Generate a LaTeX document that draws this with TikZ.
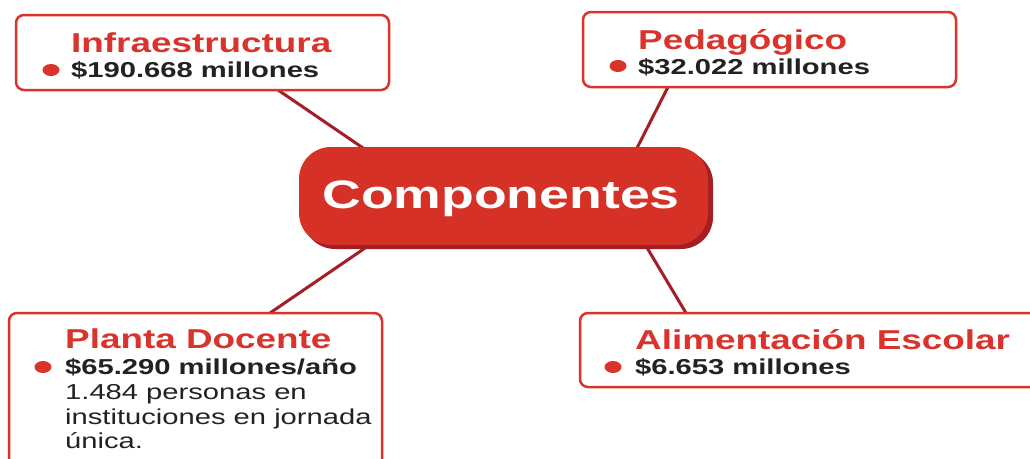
\documentclass[tikz,border=0pt]{standalone}
\usepackage{fontspec}
\setmainfont[FakeStretch=1.35]{Liberation Sans}
\usetikzlibrary{shapes.geometric}
\definecolor{boxred}{HTML}{D9332B}
\definecolor{linered}{HTML}{A31E25}
\definecolor{hubred}{HTML}{D63127}
\definecolor{hubshadow}{HTML}{A41F24}
\definecolor{bodytext}{HTML}{222222}
\tikzset{
  x=1pt, y=-1pt,
  panel/.style={draw=boxred, line width=2.5pt, fill=white, rounded corners=8pt},
  conn/.style={draw=linered, line width=3pt},
  ttl/.style={anchor=base west, inner sep=0pt, text=boxred, font=\bfseries\fontsize{27.3}{30}\selectfont},
  sub/.style={anchor=base west, inner sep=0pt, text=bodytext, font=\bfseries\fontsize{21.6}{25}\selectfont},
  body/.style={anchor=base west, inner sep=0pt, text=bodytext, font=\fontsize{21.6}{25}\selectfont},
  dot/.style={fill=boxred, ellipse, inner sep=0pt, minimum width=17pt, minimum height=12pt},
}
\begin{document}
\begin{tikzpicture}
\useasboundingbox (0,0) rectangle (1030,458);
\fill[white] (0,0) rectangle (1030,458);
% connector end points
\coordinate (iA) at (278,90);  \coordinate (iB) at (366,150);
\coordinate (pA) at (668,87);  \coordinate (pB) at (636,150);
\coordinate (dA) at (270,313); \coordinate (dB) at (368,246);
\coordinate (aA) at (686,313); \coordinate (aB) at (646,246);
\draw[conn] (iA) -- (iB);
\draw[conn] (pA) -- (pB);
\draw[conn] (dA) -- (dB);
\draw[conn] (aA) -- (aB);
% central hub
\fill[hubshadow, rounded corners=32pt] (303,151) rectangle (713,249);
\fill[hubred, rounded corners=32pt] (299,147) rectangle (708,245);
\node[anchor=base, inner sep=0pt, text=white, font=\bfseries\fontsize{39.7}{44}\selectfont] (comp) at (501,208) {Componentes};
% boxes
\draw[panel] (16,15) rectangle (389,90);
\draw[panel] (583,12) rectangle (956,87);
\draw[panel] (9,313) rectangle (382,475);
\draw[panel] (580,313) rectangle (1045,387);
% texts
\node[ttl] (infraT) at (71,52) {Infraestructura};
\node[dot] (infraD) at (51,70) {};
\node[sub] (infraS) at (71,77) {\$190.668 millones};

\node[ttl] (pedT) at (638,49) {Pedagógico};
\node[dot] (pedD) at (618,66) {};
\node[sub] (pedS) at (638,74) {\$32.022 millones};

\node[ttl] (docT) at (65,348) {Planta Docente};
\node[dot] (docD) at (43,367) {};
\node[sub] (docS) at (65,374) {\$65.290 millones/año};
\node[body] (docB1) at (65,399) {1.484 personas en};
\node[body] (docB2) at (65,424) {instituciones en jornada};
\node[body] (docB3) at (65,448) {única.};

\node[ttl] (aliT) at (635,349) {Alimentación Escolar};
\node[dot] (aliD) at (613,367) {};
\node[sub] (aliS) at (635,374) {\$6.653 millones};
\end{tikzpicture}
\end{document}
